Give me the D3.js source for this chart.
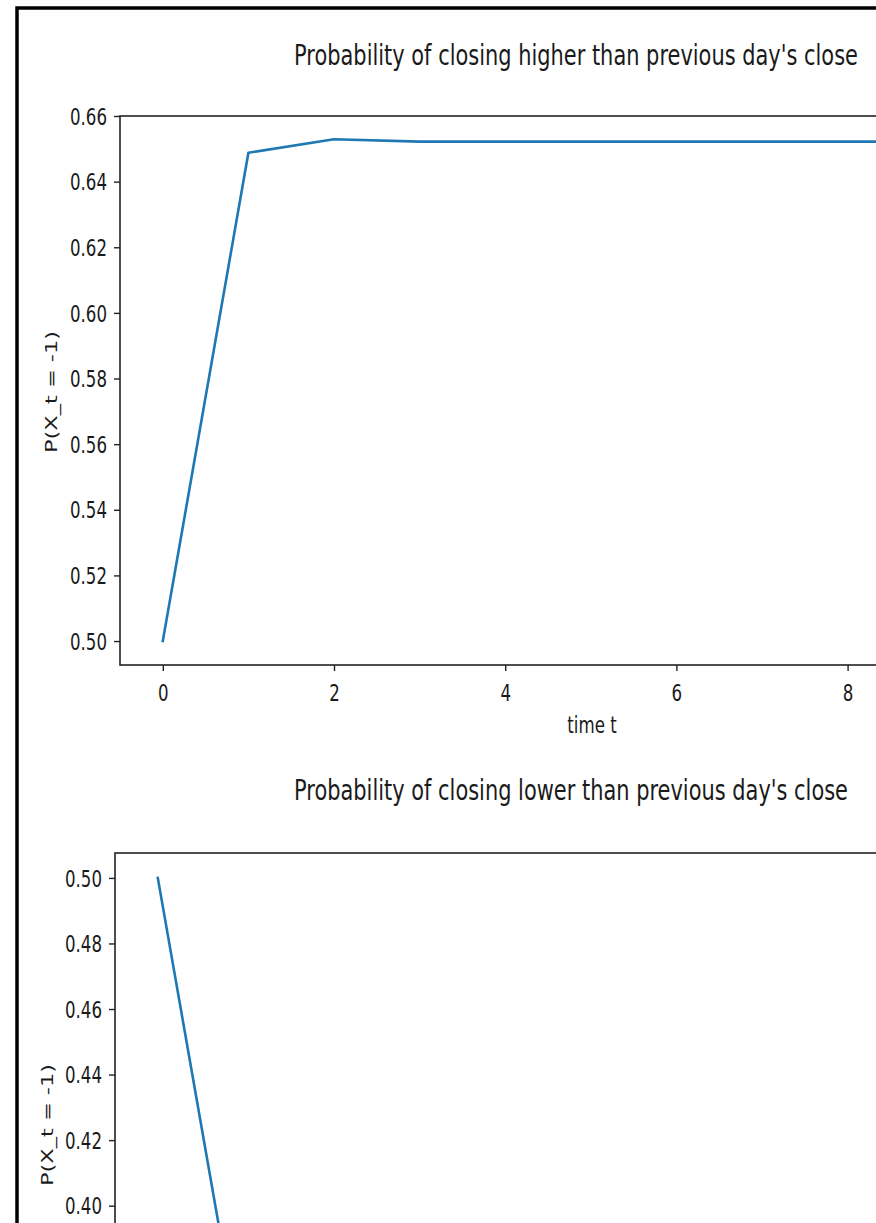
<!DOCTYPE html>
<html><head><meta charset="utf-8">
<script src="https://cdn.jsdelivr.net/npm/d3@7"></script>
<style>html,body{margin:0;padding:0;background:#fff;overflow:hidden}</style>
</head><body>
<svg id="chart" width="876" height="1223"></svg>
<script>
// ---- data ----
const timeSteps = [0, 1, 2, 3, 4, 5, 6, 7, 8, 9, 10];
const probHigher = [0.5000, 0.6488, 0.6529, 0.6522, 0.6522, 0.6522, 0.6522, 0.6522, 0.6522, 0.6522, 0.6522];
const probLower  = [0.5000, 0.3512, 0.3471, 0.3478, 0.3478, 0.3478, 0.3478, 0.3478, 0.3478, 0.3478, 0.3478];
const xTickValues = [0, 2, 4, 6, 8];
const yTicksHigher = [0.50, 0.52, 0.54, 0.56, 0.58, 0.60, 0.62, 0.64, 0.66];
const yTicksLower = [0.40, 0.42, 0.44, 0.46, 0.48, 0.50];
const titleHigher = "Probability of closing higher than previous day's close";
const titleLower = "Probability of closing lower than previous day's close";
const yLabel = "P(X_t = -1)";
const xLabel = "time t";

// ---- style ----
const SX = 0.74;
const FONT = "'DejaVu Sans', sans-serif";
const TXT = "#1a1a1a";
const svg = d3.select('#chart');

svg.append('rect').attr('x', 17).attr('y', 8).attr('width', 2000).attr('height', 2000)
  .attr('fill', 'none').attr('stroke', '#000').attr('stroke-width', 3.5);

function squeeze(sel) {
  sel.each(function () {
    const t = d3.select(this);
    const x = +t.attr('x') || 0;
    t.attr('transform', `translate(${x},0) scale(${SX},1) translate(${-x},0)`);
  });
}

function panel(cfg) {
  const x = d3.scaleLinear().domain([-0.5, 10.5]).range([cfg.left, cfg.left + 11 * 85.6]);
  const y = d3.scaleLinear().domain(cfg.yDomain).range([cfg.top + 549, cfg.top]);
  const g = svg.append('g');

  // title
  g.append('text').attr('x', cfg.titleX).attr('y', cfg.titleY)
    .attr('text-anchor', 'middle').attr('font-family', FONT).attr('font-size', 28.3)
    .attr('fill', TXT).text(cfg.title).call(squeeze);

  // y axis
  const ya = g.append('g').attr('transform', `translate(${cfg.left},0)`)
    .call(d3.axisLeft(y).tickValues(cfg.yTicks).tickSize(6).tickPadding(7).tickFormat(d3.format('.2f')));
  ya.select('.domain').remove();
  ya.selectAll('line').attr('stroke', '#222').attr('stroke-width', 1.4);
  ya.selectAll('text').attr('font-family', FONT).attr('font-size', 22.5).attr('fill', TXT)
    .attr('dy', '0.36em').call(squeeze);

  // x axis (only drawn where it falls inside the picture)
  if (cfg.showXAxis) {
    const xa = g.append('g').attr('transform', `translate(0,${cfg.top + 549})`)
      .call(d3.axisBottom(x).tickValues(xTickValues).tickSize(6).tickFormat(d3.format('d')));
    xa.select('.domain').remove();
    xa.selectAll('line').attr('stroke', '#222').attr('stroke-width', 1.4);
    xa.selectAll('text').attr('font-family', FONT).attr('font-size', 22.5).attr('fill', TXT)
      .attr('y', 36).attr('dy', 0).call(squeeze);

    g.append('text').attr('x', cfg.xLabelX).attr('y', cfg.top + 549 + 68)
      .attr('text-anchor', 'middle').attr('font-family', FONT).attr('font-size', 22.5)
      .attr('fill', TXT).text(xLabel).call(squeeze);
  }

  // frame
  g.append('rect').attr('x', cfg.left).attr('y', cfg.top)
    .attr('width', x.range()[1] - cfg.left).attr('height', 549)
    .attr('fill', 'none').attr('stroke', '#222').attr('stroke-width', 1.6);

  // line
  const pts = timeSteps.map((t, i) => ({ t, v: cfg.values[i] }));
  g.append('path').datum(pts)
    .attr('d', d3.line().x(d => x(d.t)).y(d => y(d.v)))
    .attr('fill', 'none').attr('stroke', '#1f77b4').attr('stroke-width', 2.6)
    .attr('stroke-linejoin', 'round').attr('stroke-linecap', 'square');

  // y label
  g.append('text').attr('x', 0).attr('y', 0)
    .attr('transform', `translate(${cfg.yLabelX},${cfg.yLabelY}) scale(${SX},1) rotate(-90)`)
    .attr('text-anchor', 'middle').attr('font-family', FONT).attr('font-size', 22.5)
    .attr('fill', TXT).text(yLabel);
}

panel({ left: 120, top: 116, yDomain: [0.4927, 0.6600], yTicks: yTicksHigher, values: probHigher,
        title: titleHigher, titleX: 576, titleY: 65, xLabelX: 592, yLabelX: 57, yLabelY: 392, showXAxis: true });
panel({ left: 115, top: 853, yDomain: [0.3401, 0.5076], yTicks: yTicksLower, values: probLower,
        title: titleLower, titleX: 571, titleY: 800, xLabelX: 587, yLabelX: 53, yLabelY: 1125, showXAxis: false });
</script>
</body></html>
